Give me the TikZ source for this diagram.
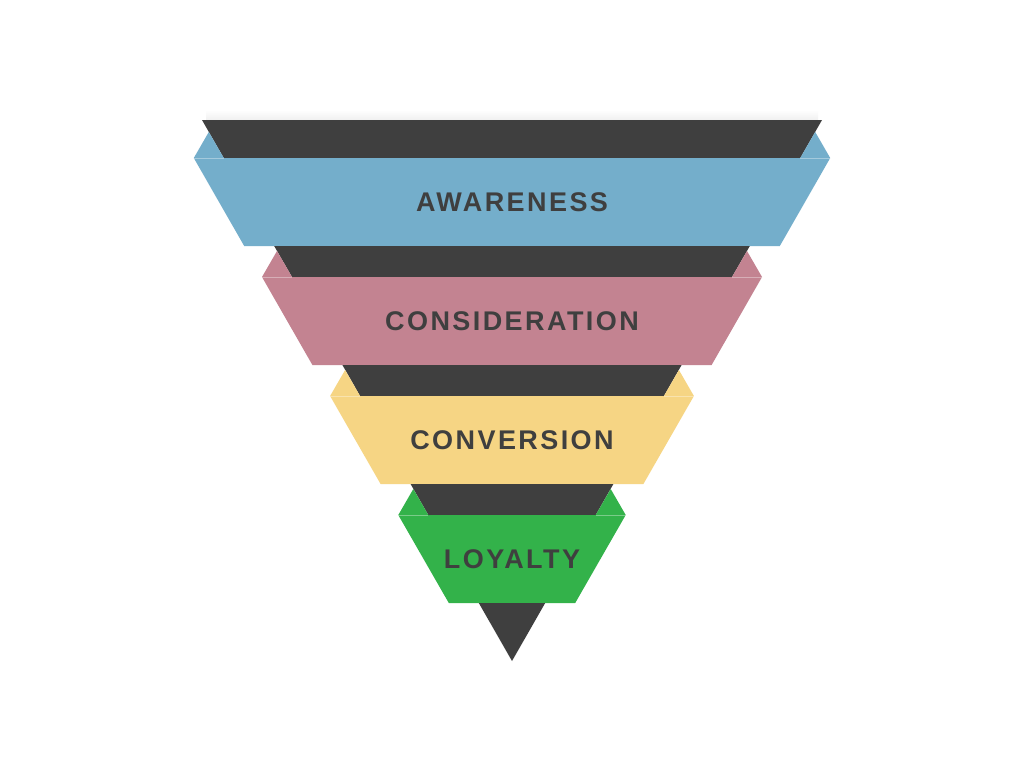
\documentclass[tikz,border=0pt]{standalone}
\usepackage{fontspec}
\setmainfont{Liberation Sans}
\usepackage{xcolor}
\usepackage{tikz}
\usetikzlibrary{positioning}

\definecolor{funneldark}{HTML}{3F3F3F}
\definecolor{awareblue}{HTML}{74AECB}
\definecolor{considerpink}{HTML}{C38391}
\definecolor{convertyellow}{HTML}{F6D584}
\definecolor{loyalgreen}{HTML}{33B24A}
\newfontfamily\labelfont[LetterSpace=9]{Liberation Sans}

\begin{document}
\begin{tikzpicture}[x=1pt, y=-1pt,
    strip/.style={fill=funneldark},
    ear/.style={draw=white, draw opacity=0.35, line width=0.8pt},
    stage/.style={text=funneldark, font=\labelfont\bfseries\fontsize{27}{27}\selectfont, inner sep=0pt}]
    \useasboundingbox[fill=white] (0,0) rectangle (1024,768);

    % Shadow
    \shade[top color=white, bottom color=black!6] (206,110) rectangle (818,120);

    % Awareness
    \fill[strip] (202,120) -- (822,120) -- (800.2,158) -- (223.8,158) -- cycle;
    \fill[awareblue] (193.8,158) -- (223.8,158) -- (208.8,132) -- cycle;
    \fill[awareblue] (830.2,158) -- (800.2,158) -- (815.2,132) -- cycle;
    \fill[awareblue] (193.8,158) -- (830.2,158) -- (779.8,246) -- (244.2,246) -- cycle;
    \draw[ear] (193.8,158) -- (223.8,158);
    \draw[ear] (800.2,158) -- (830.2,158);
    \node[stage] (aware) at (512,202) {AWARENESS};

    % Consideration
    \fill[strip] (274.2,246) -- (749.8,246) -- (732,277) -- (292,277) -- cycle;
    \fill[considerpink] (262,277) -- (292,277) -- (277,251) -- cycle;
    \fill[considerpink] (762,277) -- (732,277) -- (747,251) -- cycle;
    \fill[considerpink] (262,277) -- (762,277) -- (711.6,365) -- (312.4,365) -- cycle;
    \draw[ear] (262,277) -- (292,277);
    \draw[ear] (732,277) -- (762,277);
    \node[stage] (consider) at (512,321) {CONSIDERATION};

    % Conversion
    \fill[strip] (342.4,365) -- (681.6,365) -- (663.9,396) -- (360.1,396) -- cycle;
    \fill[convertyellow] (330.1,396) -- (360.1,396) -- (345.1,370) -- cycle;
    \fill[convertyellow] (693.9,396) -- (663.9,396) -- (678.9,370) -- cycle;
    \fill[convertyellow] (330.1,396) -- (693.9,396) -- (643.4,484) -- (380.6,484) -- cycle;
    \draw[ear] (330.1,396) -- (360.1,396);
    \draw[ear] (663.9,396) -- (693.9,396);
    \node[stage] (convert) at (512,440) {CONVERSION};

    % Loyalty
    \fill[strip] (410.6,484) -- (613.4,484) -- (595.7,515) -- (428.3,515) -- cycle;
    \fill[loyalgreen] (398.3,515) -- (428.3,515) -- (413.3,489) -- cycle;
    \fill[loyalgreen] (625.7,515) -- (595.7,515) -- (610.7,489) -- cycle;
    \fill[loyalgreen] (398.3,515) -- (625.7,515) -- (575.2,603) -- (448.8,603) -- cycle;
    \draw[ear] (398.3,515) -- (428.3,515);
    \draw[ear] (595.7,515) -- (625.7,515);
    \node[stage] (loyal) at (512,559) {LOYALTY};

    % Tip
    \fill[strip] (478.8,603) -- (545.2,603) -- (512,661) -- cycle;
\end{tikzpicture}
\end{document}
